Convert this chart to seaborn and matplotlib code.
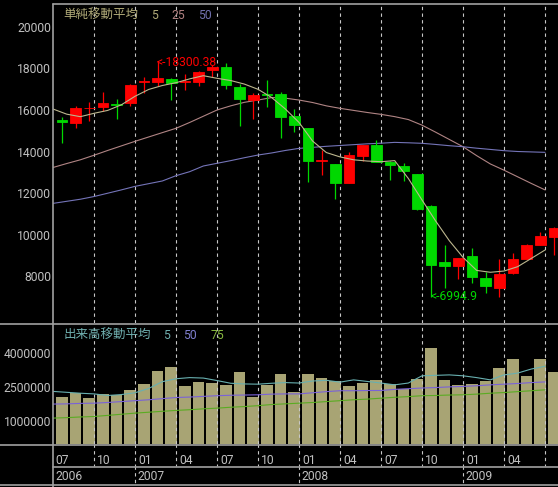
import numpy as np
import pandas as pd
import matplotlib
matplotlib.use("Agg")
import matplotlib.pyplot as plt
from matplotlib.lines import Line2D
import seaborn as sns

# monthly data, 2006-07 .. 2009-07
months = ["2006-07", "2006-08", "2006-09", "2006-10", "2006-11", "2006-12",
          "2007-01", "2007-02", "2007-03", "2007-04", "2007-05", "2007-06",
          "2007-07", "2007-08", "2007-09", "2007-10", "2007-11", "2007-12",
          "2008-01", "2008-02", "2008-03", "2008-04", "2008-05", "2008-06",
          "2008-07", "2008-08", "2008-09", "2008-10", "2008-11", "2008-12",
          "2009-01", "2009-02", "2009-03", "2009-04", "2009-05", "2009-06",
          "2009-07"]
open_ = [15518, 15374, 16080, 16145, 16300, 16323, 17330, 17364, 17494, 17340,
         17364, 17928, 18058, 17094, 16482, 16750, 16771, 15711, 15118, 13530,
         13398, 12497, 13799, 14313, 13509, 13302, 12916, 11374, 8690, 8465,
         8964, 7918, 7437, 8159, 8820, 9494, 9894]
high = [15663, 16193, 16386, 16868, 16515, 17253, 17576, 18300.38, 17520, 17735,
        17860, 18169, 18280, 17253, 16805, 17446, 16853, 16034, 15150, 14072,
        13420, 13976, 14313, 14554, 13520, 13431, 12930, 11400, 9494, 8870,
        9335, 8208, 8820, 9094, 9520, 10135, 10340]
low = [14410, 15133, 15470, 15952, 15552, 16193, 16805, 17171, 16482, 16964,
       17171, 17605, 16998, 15229, 15566, 16159, 14665, 14954, 12545, 12868,
       11697, 12480, 13542, 13480, 12627, 12593, 11181, 6994.9, 7406, 7841,
       7677, 7167, 7003, 8083, 8800, 9480, 9012]
close = [15422, 16097, 16110, 16337, 16250, 17205, 17390, 17557, 17287, 17390,
         17846, 18087, 17205, 16530, 16723, 16700, 15677, 15277, 13557, 13580,
         12497, 13818, 14313, 13480, 13350, 13075, 11229, 8531, 8497, 8851,
         7968, 7533, 8097, 8820, 9494, 9928, 10328]
volume = [2.06, 2.24, 2.03, 2.20, 2.13, 2.38, 2.65, 3.22, 3.40, 2.56, 2.73, 2.70,
          2.60, 3.18, 2.07, 2.60, 3.09, 2.29, 3.09, 2.90, 2.75, 2.56, 2.70, 2.81,
          2.63, 2.42, 2.86, 4.23, 2.82, 2.60, 2.65, 2.78, 3.35, 3.75, 3.01, 3.75,
          3.18]

# moving averages read at month starts
ma5 = [16048, 15800, 15678, 15841, 15980, 16250, 16660, 16990, 17180, 17316,
       17500, 17653, 17528, 17420, 17250, 16998, 16600, 16050, 15400, 14500,
       13950, 13740, 13600, 13540, 13509, 13560, 12700, 11663, 10650, 9700,
       8900, 8270, 8180, 8240, 8450, 8850, 9253]
ma25 = [13230, 13420, 13600, 13820, 14050, 14270, 14490, 14700, 14910, 15118,
        15400, 15700, 16000, 16200, 16370, 16480, 16600, 16570, 16480, 16360,
        16200, 16080, 15980, 15880, 15790, 15680, 15540, 15270, 14930, 14580,
        14230, 13800, 13400, 13100, 12780, 12460, 12150]
ma50 = [11500, 11600, 11700, 11830, 11990, 12150, 12320, 12450, 12580, 12835,
        13028, 13302, 13431, 13560, 13700, 13830, 13930, 14050, 14150, 14200,
        14250, 14290, 14330, 14370, 14400, 14440, 14420, 14395, 14340, 14280,
        14230, 14160, 14100, 14040, 14000, 13980, 13960]
vma5 = [2.31, 2.27, 2.23, 2.20, 2.13, 2.17, 2.25, 2.44, 2.74, 2.87, 2.92, 2.90,
        2.79, 2.67, 2.64, 2.63, 2.67, 2.70, 2.68, 2.77, 2.80, 2.72, 2.82, 2.75,
        2.68, 2.60, 2.68, 3.00, 3.02, 3.04, 3.00, 2.92, 2.82, 3.04, 3.12, 3.30,
        3.42]
vma50 = [1.75, 1.76, 1.78, 1.79, 1.82, 1.86, 1.90, 1.94, 1.99, 2.04, 2.06, 2.09,
         2.12, 2.14, 2.15, 2.16, 2.19, 2.20, 2.20, 2.25, 2.30, 2.34, 2.34, 2.35,
         2.35, 2.40, 2.43, 2.46, 2.48, 2.51, 2.53, 2.56, 2.60, 2.63, 2.66, 2.70,
         2.73]
vma75 = [1.13, 1.15, 1.18, 1.20, 1.25, 1.30, 1.35, 1.39, 1.43, 1.47, 1.50, 1.54,
         1.57, 1.61, 1.64, 1.68, 1.73, 1.76, 1.79, 1.82, 1.86, 1.90, 1.94, 1.97,
         2.01, 2.05, 2.08, 2.12, 2.13, 2.15, 2.16, 2.19, 2.23, 2.26, 2.30, 2.34,
         2.38]

price_ticks = [20000, 18000, 16000, 14000, 12000, 10000, 8000]
vol_ticks = [4000000, 2500000, 1000000]
quarter_labels = ["10", "01", "04", "07", "10", "01", "04", "07", "10", "01", "04", ""]
years = ["2006", "2007", "2008", "2009"]

W, H = 558, 487
BORDER = "#a0a0a0"
DASH = "#c8c8c8"
TXT = "#c0c0c0"
UP, DOWN = "#ff0000", "#00d800"
FS = 8.7
CJK = ["Noto Sans CJK JP", "DejaVu Sans"]

sns.set_theme(style="dark", rc={"axes.facecolor": "black",
                                "figure.facecolor": "black",
                                "savefig.facecolor": "black"})
plt.rcParams["font.family"] = ["Roboto", "DejaVu Sans"]

df = pd.DataFrame({"month": months, "open": open_, "high": high, "low": low,
                   "close": close, "volume": np.array(volume) * 1e6})
df["x"] = np.arange(len(df)) + 0.65
lines = pd.DataFrame({"x": np.arange(len(ma5)), "ma5": ma5, "ma25": ma25, "ma50": ma50,
                      "vma5": np.array(vma5) * 1e6, "vma50": np.array(vma50) * 1e6,
                      "vma75": np.array(vma75) * 1e6})


def fx(px):
    return px / W


def fy(py):
    return 1 - py / H


fig = plt.figure(figsize=(W / 100, H / 100), dpi=100)
ax = fig.add_axes([fx(53), fy(323), fx(505), 319 / H])
axv = fig.add_axes([fx(53), fy(444), fx(505), 120 / H])
axl = fig.add_axes([fx(53), 0, fx(505), 43 / H])

XMAX = 36.95
quarters = list(range(3, 37, 3))

# price candles
up = df["close"] >= df["open"]
colors = np.where(up, UP, DOWN)
ax.vlines(df["x"], df["low"], df["high"], colors=colors, linewidth=0.9, zorder=3)
body_lo = np.minimum(df["open"], df["close"])
body_h = np.abs(df["close"] - df["open"])
ax.bar(df["x"], body_h, bottom=body_lo, width=0.78, color=colors,
       edgecolor=colors, linewidth=0.6, zorder=4)
sns.lineplot(data=lines, x="x", y="ma5", ax=ax, color="#bdb78e", linewidth=0.8, zorder=5)
sns.lineplot(data=lines, x="x", y="ma25", ax=ax, color="#b08484", linewidth=0.8, zorder=2)
sns.lineplot(data=lines, x="x", y="ma50", ax=ax, color="#7474b8", linewidth=0.8, zorder=2)
for q in quarters:
    ax.axvline(q, color=DASH, linewidth=0.8, linestyle=(0, (3, 3)), zorder=1)
ax.set_xlim(0, XMAX)
ax.set_ylim(5736, 21108)
ax.set_yticks(price_ticks)
ax.set_yticklabels([str(t) for t in price_ticks], color=TXT, fontsize=FS)
ax.set_xticks([])
ax.tick_params(axis="y", length=0, pad=1.5)
ax.set_xlabel("")
ax.set_ylabel("")
ax.grid(False)

# high / low markers
ix_hi = int(np.argmax(df["high"]))
ix_lo = int(np.argmin(df["low"]))
ax.text(df["x"][ix_hi] - 0.05, df["high"][ix_hi], "<-%.2f" % df["high"][ix_hi],
        color=UP, fontsize=FS, ha="left", va="center", zorder=6)
ax.text(df["x"][ix_lo] - 0.05, df["low"][ix_lo], "<-%.1f" % df["low"][ix_lo],
        color=DOWN, fontsize=FS, ha="left", va="center", zorder=6)

# price legend
ax.text(0.75, 20560, "単純移動平均", color="#b0aa78", fontsize=9, family=CJK,
        ha="left", va="center")
ax.text(7.2, 20560, "5", color="#b0aa78", fontsize=FS, ha="left", va="center")
ax.text(8.7, 20560, "25", color="#b08080", fontsize=FS, ha="left", va="center")
ax.text(10.6, 20560, "50", color="#7272b0", fontsize=FS, ha="left", va="center")

# volume
sns.barplot(data=df, x="x", y="volume", native_scale=True, width=0.85,
            color="#a8a474", saturation=1, errorbar=None, linewidth=0, ax=axv, zorder=2)
sns.lineplot(data=lines, x="x", y="vma5", ax=axv, color="#68b0b0", linewidth=0.8, zorder=4)
sns.lineplot(data=lines, x="x", y="vma50", ax=axv, color="#7a62d8", linewidth=0.8, zorder=4)
sns.lineplot(data=lines, x="x", y="vma75", ax=axv, color="#5aac22", linewidth=0.8, zorder=4)
for q in quarters:
    axv.axvline(q, color=DASH, linewidth=0.8, linestyle=(0, (3, 3)), zorder=3)
axv.set_xlim(0, XMAX)
axv.set_ylim(-15000, 5290000)
axv.set_yticks(vol_ticks)
axv.set_yticklabels([str(t) for t in vol_ticks], color=TXT, fontsize=FS)
axv.set_xticks([])
axv.tick_params(axis="y", length=0, pad=1.5)
axv.set_xlabel("")
axv.set_ylabel("")
axv.grid(False)
axv.text(0.75, 4790000, "出来高移動平均", color="#70b0b0", fontsize=9, family=CJK,
         ha="left", va="center")
axv.text(8.05, 4790000, "5", color="#70b0b0", fontsize=FS, ha="left", va="center")
axv.text(9.5, 4790000, "50", color="#8080d0", fontsize=FS, ha="left", va="center")
axv.text(11.5, 4790000, "75", color="#88b840", fontsize=FS, ha="left", va="center")

# date strip
axl.set_xlim(0, XMAX)
axl.set_ylim(487, 444)
axl.axis("off")
for q, lab in zip(quarters, quarter_labels):
    axl.vlines(q, 444, 466, color=DASH, linewidth=0.8, linestyles=(0, (3, 3)))
    axl.text(q + 0.25, 460, lab, color=TXT, fontsize=FS, ha="left", va="center")
axl.text(0.15, 460, "07", color=TXT, fontsize=FS, ha="left", va="center")
for yp, yl in zip([0, 6, 18, 30], years):
    if yp > 0:
        axl.vlines(yp, 466, 485, color=DASH, linewidth=0.8, linestyles=(0, (3, 3)))
    axl.text(yp + 0.2, 476, yl, color=TXT, fontsize=FS, ha="left", va="center")

for a in (ax, axv):
    for s in a.spines.values():
        s.set_visible(False)


# frame lines
def hline(py, x0=0, x1=W):
    fig.add_artist(Line2D([fx(x0), fx(x1)], [fy(py), fy(py)], color=BORDER,
                          linewidth=1.2, transform=fig.transFigure))


hline(4, 53)
hline(324)
hline(444.5)
hline(466.5, 53)
hline(485)
fig.add_artist(Line2D([fx(53), fx(53)], [fy(4), 0], color=BORDER, linewidth=1.2,
                      transform=fig.transFigure))

fig.savefig("out.png", dpi=100, facecolor="black")
